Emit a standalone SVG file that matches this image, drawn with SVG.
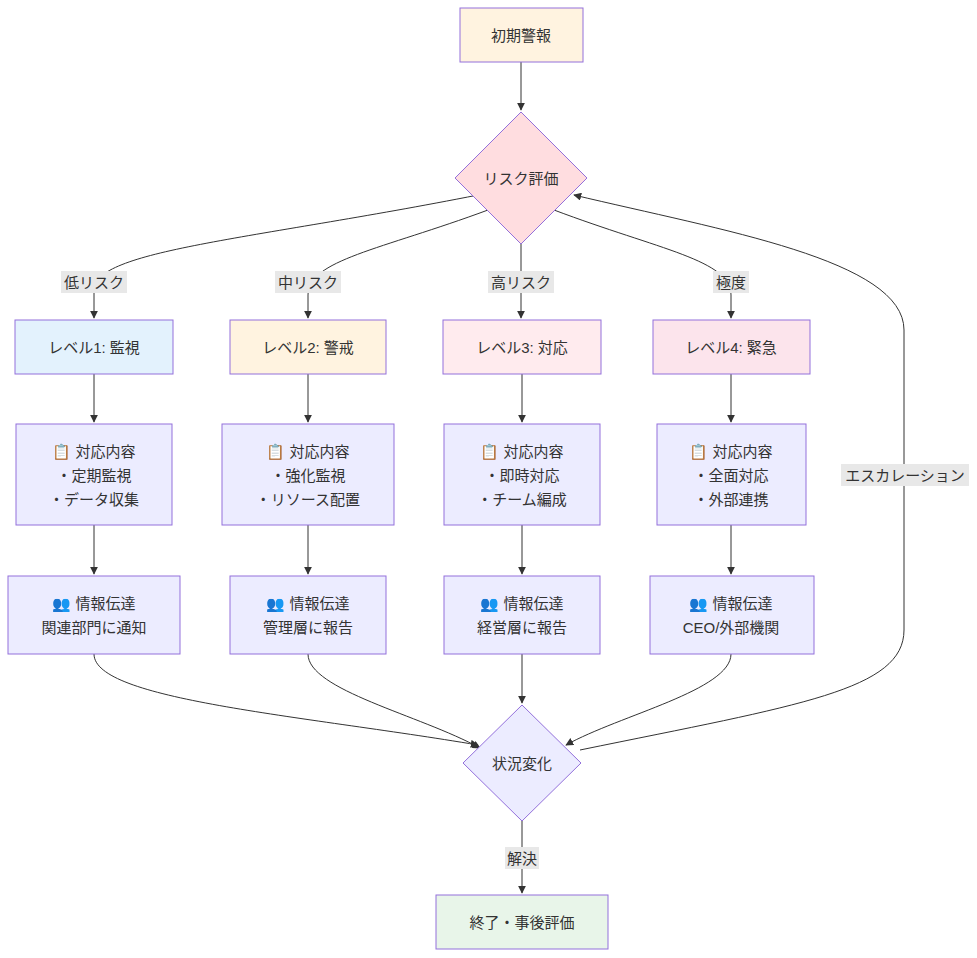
<svg xmlns="http://www.w3.org/2000/svg" width="977" height="958" viewBox="0 0 977 958">
<style>
text{font-family:"Liberation Sans","Noto Sans CJK JP",sans-serif;font-size:15px;fill:#333;text-anchor:middle;dominant-baseline:central}
.n{fill:#ececff;stroke:#9370db;stroke-width:1}
.e{fill:none;stroke:#333;stroke-width:1}
.lb{fill:#e8e8e8}
</style>
<defs><marker id="a" viewBox="0 0 10 10" refX="9" refY="5" markerWidth="8" markerHeight="8" orient="auto"><path d="M0,0L10,5L0,10z" fill="#333"/></marker></defs>
<g id="edges">
<path class="e" marker-end="url(#a)" d="M521,62L521,110"/>
<path class="e" marker-end="url(#a)" d="M478,195C250,240 94,250 94,290L94,318"/>
<path class="e" marker-end="url(#a)" d="M488,210C380,250 308,260 308,295L308,318"/>
<path class="e" marker-end="url(#a)" d="M521,244L521,318"/>
<path class="e" marker-end="url(#a)" d="M554,210C660,250 731,260 731,295L731,318"/>
<path class="e" marker-end="url(#a)" d="M94,374L94,422"/>
<path class="e" marker-end="url(#a)" d="M308,374L308,422"/>
<path class="e" marker-end="url(#a)" d="M522,374L522,422"/>
<path class="e" marker-end="url(#a)" d="M731,374L731,422"/>
<path class="e" marker-end="url(#a)" d="M94,525L94,574"/>
<path class="e" marker-end="url(#a)" d="M308,525L308,574"/>
<path class="e" marker-end="url(#a)" d="M522,525L522,574"/>
<path class="e" marker-end="url(#a)" d="M731,525L731,574"/>
<path class="e" marker-end="url(#a)" d="M94,654C94,700 300,715 478,745"/>
<path class="e" marker-end="url(#a)" d="M308,654C308,690 420,715 480,748"/>
<path class="e" marker-end="url(#a)" d="M522,654L522,703"/>
<path class="e" marker-end="url(#a)" d="M731,654C731,690 620,715 566,745"/>
<path class="e" marker-end="url(#a)" d="M580,750C800,705 904,690 904,630L904,330C904,260 720,230 574,195"/>
<path class="e" marker-end="url(#a)" d="M522,821L522,893"/>
</g>
<g id="labels">
<rect class="lb" x="61" y="271" width="66" height="22"/><text x="94" y="282">低リスク</text>
<rect class="lb" x="275" y="271" width="66" height="22"/><text x="308" y="282">中リスク</text>
<rect class="lb" x="488" y="271" width="66" height="22"/><text x="521" y="282">高リスク</text>
<rect class="lb" x="713" y="271" width="36" height="22"/><text x="731" y="282">極度</text>
<rect class="lb" x="841" y="464" width="128" height="22"/><text x="905" y="475">エスカレーション</text>
<rect class="lb" x="505" y="847" width="34" height="22"/><text x="522" y="858">解決</text>
</g>
<g id="start"><rect x="460" y="8" width="123" height="54" fill="#fff3e0" stroke="#9370db"/><text x="521" y="35">初期警報</text></g>
<g id="risk"><path d="M521,112L587,178L521,244L455,178Z" fill="#ffdde0" stroke="#9370db"/><text x="521" y="178">リスク評価</text></g>
<g id="l1"><rect x="15" y="320" width="158" height="54" fill="#e3f2fd" stroke="#9370db"/><text x="94" y="347">レベル1: 監視</text></g>
<g id="l2"><rect x="230" y="320" width="156" height="54" fill="#fff3e0" stroke="#9370db"/><text x="308" y="347">レベル2: 警戒</text></g>
<g id="l3"><rect x="443" y="320" width="158" height="54" fill="#ffebee" stroke="#9370db"/><text x="522" y="347">レベル3: 対応</text></g>
<g id="l4"><rect x="653" y="320" width="157" height="54" fill="#fce4ec" stroke="#9370db"/><text x="731" y="347">レベル4: 緊急</text></g>
<g id="c1"><rect class="n" x="16" y="424" width="156" height="101"/><text x="94" y="451">📋 対応内容</text><text x="94" y="475">・定期監視</text><text x="94" y="499">・データ収集</text></g>
<g id="c2"><rect class="n" x="222" y="424" width="172" height="101"/><text x="308" y="451">📋 対応内容</text><text x="308" y="475">・強化監視</text><text x="308" y="499">・リソース配置</text></g>
<g id="c3"><rect class="n" x="444" y="424" width="156" height="101"/><text x="522" y="451">📋 対応内容</text><text x="522" y="475">・即時対応</text><text x="522" y="499">・チーム編成</text></g>
<g id="c4"><rect class="n" x="657" y="424" width="149" height="101"/><text x="731" y="451">📋 対応内容</text><text x="731" y="475">・全面対応</text><text x="731" y="499">・外部連携</text></g>
<g id="i1"><rect class="n" x="8" y="576" width="172" height="78"/><text x="94" y="603">👥 情報伝達</text><text x="94" y="627">関連部門に通知</text></g>
<g id="i2"><rect class="n" x="230" y="576" width="156" height="78"/><text x="308" y="603">👥 情報伝達</text><text x="308" y="627">管理層に報告</text></g>
<g id="i3"><rect class="n" x="444" y="576" width="156" height="78"/><text x="522" y="603">👥 情報伝達</text><text x="522" y="627">経営層に報告</text></g>
<g id="i4"><rect class="n" x="650" y="576" width="164" height="78"/><text x="731" y="603">👥 情報伝達</text><text x="731" y="627">CEO/外部機関</text></g>
<g id="state"><path d="M522,705L581,763L522,821L463,763Z" class="n"/><text x="522" y="763">状況変化</text></g>
<g id="end"><rect x="436" y="895" width="172" height="54" fill="#e8f5e9" stroke="#9370db"/><text x="522" y="922">終了・事後評価</text></g>
</svg>
